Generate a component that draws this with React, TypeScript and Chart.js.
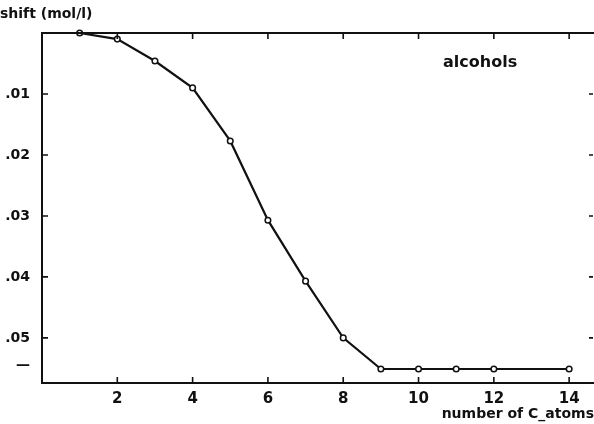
import React, { useEffect, useRef } from "react";
import { Chart, registerables } from "chart.js";

Chart.register(...registerables);

const carbonAtoms = [1, 2, 3, 4, 5, 6, 7, 8, 9, 10, 11, 12, 14];
const shiftValues = [0, 0.001, 0.0046, 0.009, 0.0177, 0.0307, 0.0407, 0.05, 0.0551, 0.0551, 0.0551, 0.0551, 0.0551];
const xTickValues = [2, 4, 6, 8, 10, 12, 14];
const yTickValues = [0.01, 0.02, 0.03, 0.04, 0.05];
const yLabelTicks = [0.01, 0.02, 0.03, 0.04, 0.05, 0.0545];
const yTitle = "shift (mol/l)";
const xTitle = "number of C_atoms";
const seriesLabel = "alcohols";

const FONT = "'DejaVu Sans', sans-serif";

const framePlugin = {
  id: "frame",
  afterDraw(chart: any) {
    const { ctx, chartArea, scales } = chart;
    const x = scales.x;
    const y = scales.y;
    ctx.save();
    ctx.strokeStyle = "#111";
    ctx.lineWidth = 2;
    ctx.beginPath();
    ctx.moveTo(chartArea.left, chartArea.top);
    ctx.lineTo(chartArea.right + 2, chartArea.top);
    ctx.stroke();
    ctx.lineWidth = 1.6;
    const tl = 6;
    xTickValues.forEach((v) => {
      const px = x.getPixelForValue(v);
      ctx.beginPath();
      ctx.moveTo(px, chartArea.bottom);
      ctx.lineTo(px, chartArea.bottom - tl);
      ctx.moveTo(px, chartArea.top);
      ctx.lineTo(px, chartArea.top + tl);
      ctx.stroke();
    });
    yTickValues.forEach((v) => {
      const py = y.getPixelForValue(v);
      ctx.beginPath();
      ctx.moveTo(chartArea.right - 1, py);
      ctx.lineTo(chartArea.right - 5, py);
      ctx.moveTo(chartArea.left, py);
      ctx.lineTo(chartArea.left + tl, py);
      ctx.stroke();
    });
    ctx.fillStyle = "#111";
    ctx.textBaseline = "middle";
    ctx.textAlign = "left";
    ctx.font = `bold 14px ${FONT}`;
    ctx.fillText(yTitle, 0, 14);
    ctx.font = `bold 16px ${FONT}`;
    ctx.fillText(seriesLabel, 443, 63);
    ctx.restore();
  },
};

export default function App() {
  const ref = useRef<HTMLCanvasElement>(null);
  useEffect(() => {
    document.body.style.margin = "0";
    const chart = new Chart(ref.current!, {
      type: "line",
      data: {
        datasets: [
          {
            label: seriesLabel,
            data: carbonAtoms.map((c, i) => ({ x: c, y: shiftValues[i] })),
            borderColor: "#111",
            borderWidth: 2.2,
            tension: 0,
            pointRadius: 2.8,
            pointBorderWidth: 1.5,
            pointBackgroundColor: "#fff",
            pointBorderColor: "#111",
            clip: false as any,
          },
        ],
      },
      options: {
        responsive: false,
        animation: false,
        layout: { autoPadding: false, padding: { top: 33, right: 0, left: 0, bottom: 0 } },
        plugins: { legend: { display: false }, tooltip: { enabled: false } },
        scales: {
          x: {
            type: "linear",
            min: 0,
            max: 14.66,
            afterBuildTicks: (s: any) => {
              s.ticks = xTickValues.map((v) => ({ value: v }));
            },
            afterFit: (s: any) => {
              s.height = 41;
              s.paddingLeft = 0;
              s.paddingRight = 0;
            },
            grid: { drawOnChartArea: false, drawTicks: false },
            border: { display: true, color: "#111", width: 2 },
            ticks: {
              color: "#111",
              padding: 7,
              maxRotation: 0,
              autoSkip: false,
              font: { family: FONT, size: 15, weight: "bold" },
              callback: (v: any) => String(v),
            },
            title: {
              display: true,
              text: xTitle,
              align: "end",
              color: "#111",
              padding: { top: 0, bottom: 1 },
              font: { family: FONT, size: 14, weight: "bold" },
            },
          },
          y: {
            type: "linear",
            reverse: true,
            min: 0,
            max: 0.0574,
            afterBuildTicks: (s: any) => {
              s.ticks = yLabelTicks.map((v) => ({ value: v }));
            },
            afterFit: (s: any) => {
              s.width = 42;
              s.paddingTop = 0;
              s.paddingBottom = 0;
            },
            grid: { drawOnChartArea: false, drawTicks: false },
            border: { display: true, color: "#111", width: 2 },
            ticks: {
              color: "#111",
              padding: 12,
              autoSkip: false,
              font: { family: FONT, size: 14, weight: "bold" },
              callback: (v: any) => (v > 0.052 ? "—" : "." + String(Math.round(v * 100)).padStart(2, "0")),
            },
          },
        },
      },
      plugins: [framePlugin],
    });
    return () => chart.destroy();
  }, []);
  return (
    <div style={{ position: "absolute", left: 0, top: 0, width: 594, height: 424, background: "#fff" }}>
      <canvas ref={ref} width={594} height={424} />
    </div>
  );
}
